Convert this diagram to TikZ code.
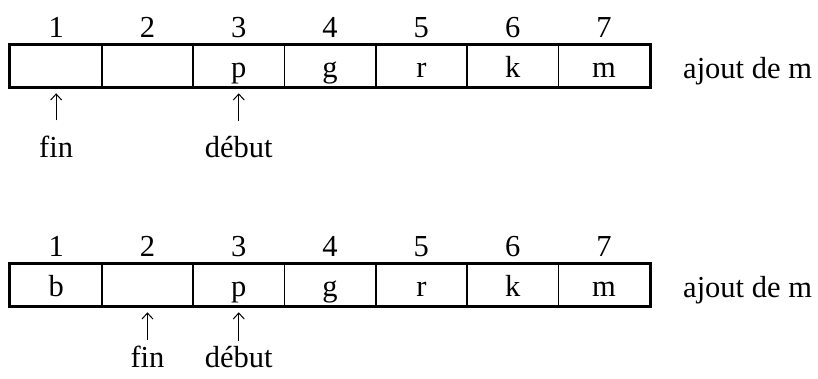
\documentclass[tikz,border=0pt]{standalone}
\usepackage{fontspec}
\setmainfont{Liberation Serif}
\usetikzlibrary{arrows.meta}
\tikzset{
  cell/.style={draw, line width=1.6pt, minimum width=91.3pt, minimum height=41pt, inner sep=0pt, text height=29pt, text depth=7pt},
  outer/.style={line width=3.5pt},
  txt/.style={anchor=base, inner sep=0pt},
  ptr/.style={line width=1pt, -{Straight Barb[length=6pt,width=11pt]}}
}
\begin{document}
\begin{tikzpicture}[x=1pt,y=-1pt,font=\fontsize{30.5}{36}\selectfont]
\useasboundingbox (0,0) rectangle (818,378);
% top row
\foreach \i/\t in {1/,2/,3/p,4/g,5/r,6/k,7/m} {
  \node[cell] (a\i) at ({10.5+91.3*(\i-0.5)},66) {\t};
  \node[txt] (an\i) at ({10.5+91.3*(\i-0.5)},37) {\i};
}
\draw[outer] (a1.north west) rectangle (a7.south east);
\node[txt, anchor=base west] (aj1) at (683,78) {ajout de m};
\node[txt] (fin1) at (a1.center |- 0,157) {fin};
\node[txt] (deb1) at (a3.center |- 0,157) {début};
\draw[ptr, shorten >=6pt, shorten <=15pt] (fin1.north) -- (a1.south);
\draw[ptr, shorten >=6pt, shorten <=15pt] (deb1.north) -- (a3.south);
% bottom row
\foreach \i/\t in {1/b,2/,3/p,4/g,5/r,6/k,7/m} {
  \node[cell] (b\i) at ({10.5+91.3*(\i-0.5)},285) {\t};
  \node[txt] (bn\i) at ({10.5+91.3*(\i-0.5)},256) {\i};
}
\draw[outer] (b1.north west) rectangle (b7.south east);
\node[txt, anchor=base west] (aj2) at (683,297) {ajout de m};
\node[txt] (fin2) at (b2.center |- 0,367) {fin};
\node[txt] (deb2) at (b3.center |- 0,367) {début};
\draw[ptr, shorten >=6pt, shorten <=5pt] (fin2.north) -- (b2.south);
\draw[ptr, shorten >=6pt, shorten <=5pt] (deb2.north) -- (b3.south);
\end{tikzpicture}
\end{document}
